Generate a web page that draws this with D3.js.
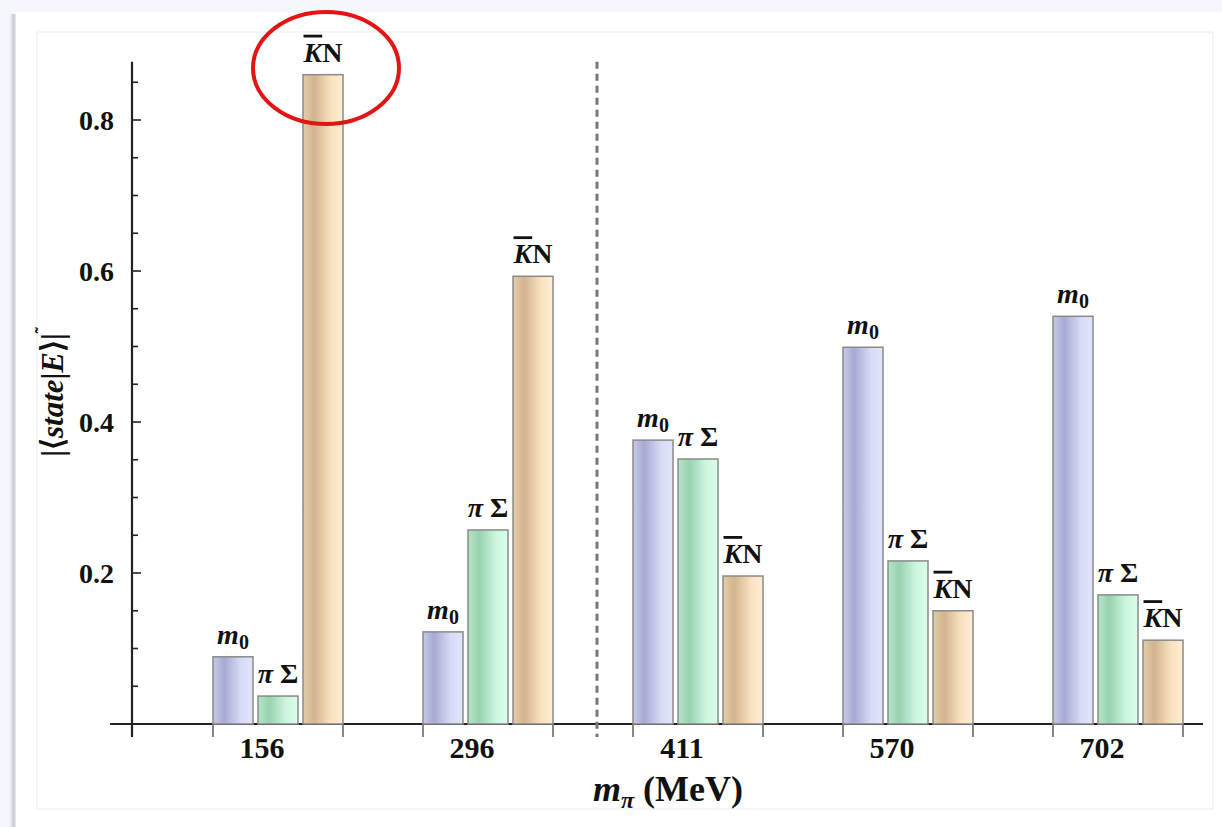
<!DOCTYPE html>
<html>
<head>
<meta charset="utf-8">
<script src="https://cdn.jsdelivr.net/npm/d3@7"></script>
<style>
  html, body { margin: 0; padding: 0; background: #f5f7fd; }
  svg { display: block; }
  text { font-family: "Liberation Serif", "Times New Roman", serif; font-weight: bold; fill: #111; }
</style>
</head>
<body>
<svg id="chart" width="1222" height="827"></svg>
<script>
// data
var masses = ['156', '296', '411', '570', '702'];
var states = ['m0', 'piSigma', 'KbarN'];
var m0Values      = [0.089, 0.122, 0.376, 0.499, 0.540];
var piSigmaValues = [0.037, 0.257, 0.351, 0.216, 0.171];
var kbarNValues   = [0.860, 0.593, 0.196, 0.150, 0.111];
var yTicks = [0.2, 0.4, 0.6, 0.8];

var seriesValues = { m0: m0Values, piSigma: piSigmaValues, KbarN: kbarNValues };

var svg = d3.select('#chart');
var W = 1222, H = 827;

// page / card background
var defs = svg.append('defs');
var shadow = defs.append('linearGradient').attr('id', 'cardShadow');
shadow.append('stop').attr('offset', '0%').attr('stop-color', '#eef1fa');
shadow.append('stop').attr('offset', '60%').attr('stop-color', '#c9ccd6');
shadow.append('stop').attr('offset', '100%').attr('stop-color', '#e6e8ee');
svg.append('rect').attr('x', 0).attr('y', 0).attr('width', W).attr('height', H).attr('fill', '#f5f7fd');
svg.append('rect').attr('x', 10).attr('y', 14).attr('width', 6).attr('height', H).attr('fill', 'url(#cardShadow)');
svg.append('rect').attr('x', 16).attr('y', 12).attr('width', W - 16).attr('height', H).attr('fill', '#ffffff');
svg.append('rect').attr('x', 37).attr('y', 32).attr('width', 1176).attr('height', 777)
  .attr('fill', 'none').attr('stroke', '#ececf0').attr('stroke-width', 1);

// bar gradients
var grads = {
  m0:      ['#c6cae8', '#a6aad2', '#d8dbf5', '#e1e4fb'],
  piSigma: ['#b6e4c8', '#98d2b0', '#cdf6de', '#dafde9'],
  KbarN:   ['#e4cdaa', '#d3b48e', '#f9e1c0', '#ffedd4']
};
states.forEach(function(s) {
  var g = defs.append('linearGradient').attr('id', 'grad-' + s).attr('x1', 0).attr('x2', 1).attr('y1', 0).attr('y2', 0);
  [[0, grads[s][0]], [0.28, grads[s][1]], [0.7, grads[s][2]], [1, grads[s][3]]].forEach(function(st) {
    g.append('stop').attr('offset', st[0]).attr('stop-color', st[1]);
  });
});

// scales
var x0 = d3.scaleBand().domain(masses).range([173, 1223]).paddingInner(80 / 210).paddingOuter(40 / 210);
var x1 = d3.scaleBand().domain(states).range([0, x0.bandwidth()]).paddingInner(5 / 45).paddingOuter(0);
var y = d3.scaleLinear().domain([0, 0.8]).range([724, 120]);

var axisX = 132;

// y axis line
svg.append('line').attr('x1', axisX).attr('x2', axisX).attr('y1', y(0.877)).attr('y2', 737)
  .attr('stroke', '#222').attr('stroke-width', 2.2);

// minor + major ticks (inside)
d3.range(1, 18).map(function(i) { return i * 0.05; }).forEach(function(v) {
  var major = Math.abs(v * 5 - Math.round(v * 5)) < 1e-6;
  svg.append('line').attr('x1', axisX).attr('x2', axisX + (major ? 9 : 6))
    .attr('y1', y(v)).attr('y2', y(v)).attr('stroke', '#222').attr('stroke-width', 1.6);
});

svg.selectAll('.ytick').data(yTicks).enter().append('text')
  .attr('class', 'ytick')
  .attr('x', 114).attr('y', function(d) { return y(d) + 10; })
  .attr('text-anchor', 'end').style('font-size', '28px')
  .text(function(d) { return d3.format('.1f')(d); });

// x axis line
svg.append('line').attr('x1', 110).attr('x2', 1203).attr('y1', y(0)).attr('y2', y(0))
  .attr('stroke', '#222').attr('stroke-width', 2.2);

// group edge ticks
masses.forEach(function(m) {
  [x0(m), x0(m) + x0.bandwidth()].forEach(function(px) {
    svg.append('line').attr('x1', px).attr('x2', px).attr('y1', y(0)).attr('y2', 737)
      .attr('stroke', '#555').attr('stroke-width', 1.4);
  });
});

// tick labels sit a little left of the group centre in the original
svg.selectAll('.xtick').data(masses).enter().append('text')
  .attr('class', 'xtick')
  .attr('x', function(d) { return x0(d) + x0.bandwidth() / 2 - 16; })
  .attr('y', 758).attr('text-anchor', 'middle').style('font-size', '30px')
  .text(function(d) { return d; });

// dashed divider between 296 and 411
var divX = (x0('296') + x0.bandwidth() + x0('411')) / 2 + 4;
svg.append('line').attr('x1', divX).attr('x2', divX).attr('y1', y(0.877)).attr('y2', 737)
  .attr('stroke', '#777').attr('stroke-width', 3).attr('stroke-dasharray', '7,5');

// bars
var groups = svg.selectAll('.group').data(masses).enter().append('g')
  .attr('class', 'group')
  .attr('transform', function(d) { return 'translate(' + x0(d) + ',0)'; });

groups.selectAll('rect').data(function(d, i) {
  return states.map(function(s) { return { state: s, value: seriesValues[s][i] }; });
}).enter().append('rect')
  .attr('x', function(d) { return x1(d.state); })
  .attr('y', function(d) { return y(d.value); })
  .attr('width', x1.bandwidth())
  .attr('height', function(d) { return y(0) - y(d.value); })
  .attr('fill', function(d) { return 'url(#grad-' + d.state + ')'; })
  .attr('stroke', '#8a8a8a').attr('stroke-width', 1.5);

// labels above bars
groups.each(function(m, i) {
  var g = d3.select(this);
  states.forEach(function(s) {
    var cx = x1(s) + x1.bandwidth() / 2;
    var ty = y(seriesValues[s][i]) - 13;
    var t = g.append('text').attr('x', cx).attr('y', ty).attr('text-anchor', 'middle').style('font-size', '28px');
    if (s === 'm0') {
      t.append('tspan').style('font-style', 'italic').text('m');
      t.append('tspan').attr('dy', 5).style('font-size', '20px').text('0');
    } else if (s === 'piSigma') {
      t.append('tspan').style('font-style', 'italic').text('π');
      t.append('tspan').text(' Σ');
    } else {
      t.append('tspan').style('font-style', 'italic').style('text-decoration', 'overline').text('K');
      t.append('tspan').text('N');
    }
  });
});

// y axis title
var yt = svg.append('text').attr('transform', 'translate(63,392) rotate(-90)')
  .attr('text-anchor', 'middle').style('font-size', '31px');
yt.append('tspan').text('|⟨');
yt.append('tspan').style('font-style', 'italic').text('state');
yt.append('tspan').text('|');
yt.append('tspan').style('font-style', 'italic').text('E');
yt.append('tspan').text('⟩|');
yt.append('tspan').attr('dy', -15).style('font-size', '18px').text('˜');

// x axis title
var xt = svg.append('text').attr('x', 668).attr('y', 801).attr('text-anchor', 'middle').style('font-size', '36px');
xt.append('tspan').style('font-style', 'italic').text('m');
xt.append('tspan').attr('dy', 7).style('font-style', 'italic').style('font-size', '24px').text('π');
xt.append('tspan').attr('dy', -7).text(' (MeV)');

// red ellipse highlight
svg.append('ellipse').attr('cx', 326).attr('cy', 68).attr('rx', 73).attr('ry', 56)
  .attr('fill', 'none').attr('stroke', '#e31414').attr('stroke-width', 4);
</script>
</body>
</html>
